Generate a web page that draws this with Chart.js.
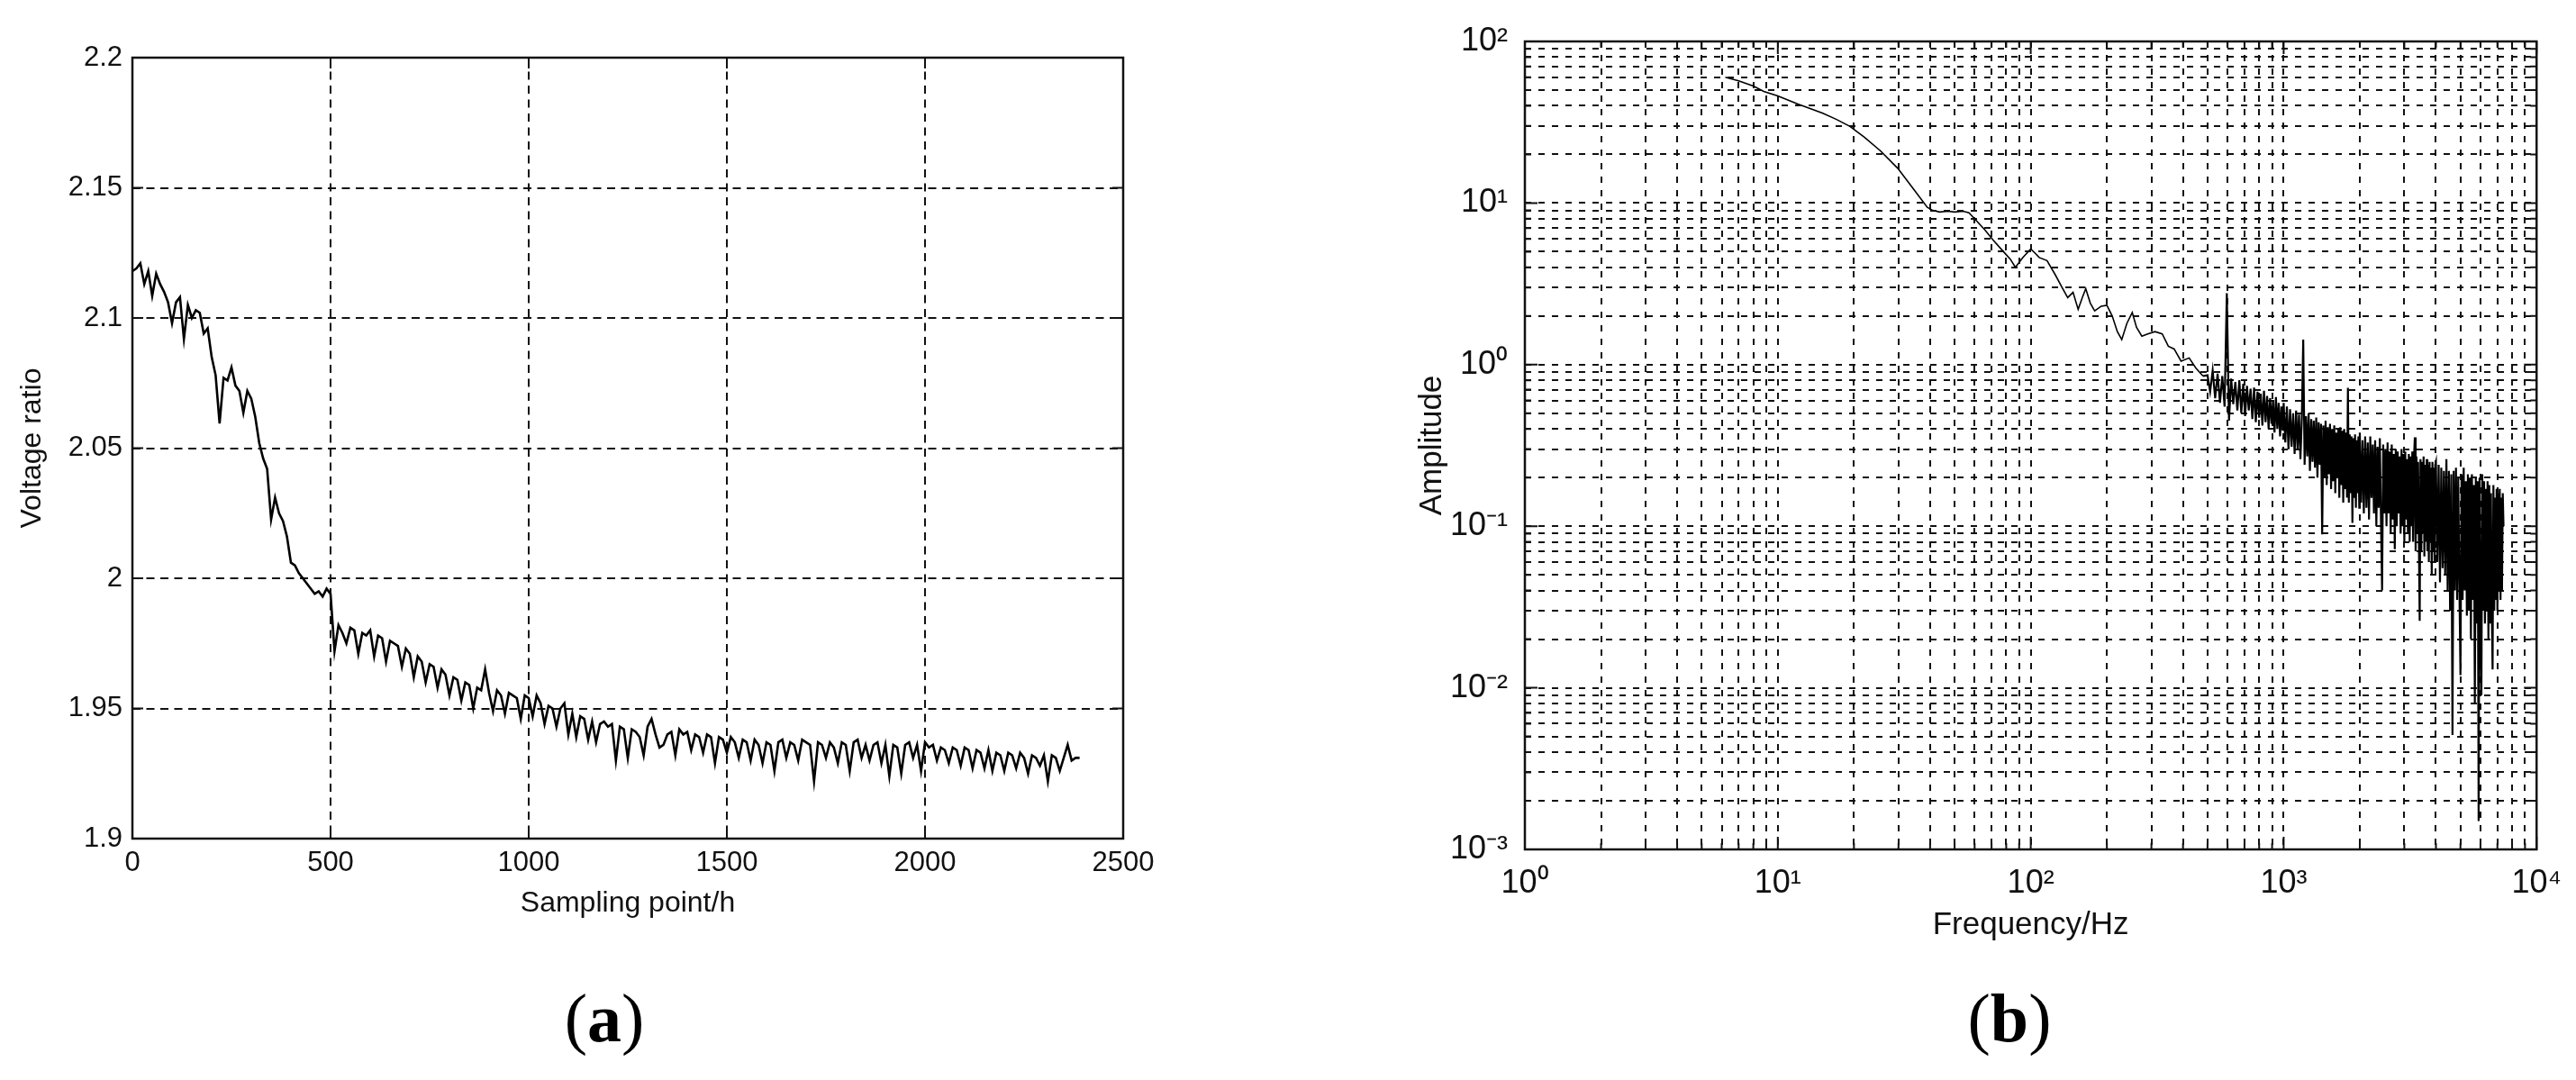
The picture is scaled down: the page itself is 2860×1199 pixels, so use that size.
<!DOCTYPE html>
<html lang="en">
<head>
    <meta charset="UTF-8">
    <title>Voltage ratio and amplitude spectrum</title>
    <script src="https://cdn.jsdelivr.net/npm/chart.js"></script>
    <style>
        body { margin: 0; width: 2860px; height: 1199px; background: #fff; overflow: hidden; position: relative; }
        canvas { position: absolute; top: 0; }
        #voltageChart { left: 0; }
        #spectrumChart { left: 1430px; }
        .tag { position: absolute; top: 1130px; transform: translate(-50%, -50%); font-family: 'Liberation Serif', 'Times New Roman', serif; font-size: 76px; color: #000; line-height: 1; white-space: nowrap; }
    </style>
</head>
<body>
    <canvas id="voltageChart" width="1330" height="1199"></canvas>
    <canvas id="spectrumChart" width="1430" height="1199"></canvas>
    <div class="tag" style="left: 671px;">(<b>a</b>)</div>
    <div class="tag" style="left: 2231px;">(<b>b</b>)</div>
    <script>
        // (a) voltage ratio, one reading every 10 sampling hours
        const hourStep = 10;
        const voltageRatio = [
            2.118, 2.119, 2.121, 2.113, 2.118, 2.1085, 2.117, 2.113, 2.110, 2.106,
            2.098, 2.106, 2.108, 2.092, 2.105, 2.100, 2.103, 2.102, 2.094, 2.096,
            2.085, 2.078, 2.0595, 2.077, 2.076, 2.081, 2.074, 2.072, 2.0636, 2.072,
            2.069, 2.062, 2.052, 2.046, 2.042, 2.0226, 2.031, 2.025, 2.022, 2.016,
            2.006, 2.005, 2.002, 2.000, 1.998, 1.996, 1.994, 1.995, 1.993, 1.996,
            1.994, 1.972, 1.982, 1.979, 1.975, 1.981, 1.980, 1.971, 1.979, 1.978,
            1.980, 1.970, 1.978, 1.977, 1.968, 1.976, 1.975, 1.974, 1.966, 1.973,
            1.971, 1.962, 1.970, 1.968, 1.960, 1.967, 1.966, 1.958, 1.965, 1.963,
            1.955, 1.962, 1.961, 1.953, 1.960, 1.959, 1.950, 1.958, 1.957, 1.965,
            1.956, 1.949, 1.957, 1.955, 1.948, 1.956, 1.955, 1.954, 1.946, 1.955,
            1.954, 1.947, 1.955, 1.952, 1.944, 1.951, 1.950, 1.943, 1.950, 1.952,
            1.940, 1.948, 1.939, 1.947, 1.946, 1.938, 1.945, 1.937, 1.944, 1.945,
            1.943, 1.944, 1.930, 1.943, 1.942, 1.931, 1.942, 1.941, 1.939, 1.932,
            1.943, 1.946, 1.940, 1.935, 1.936, 1.940, 1.941, 1.932, 1.942, 1.940,
            1.941, 1.934, 1.940, 1.939, 1.933, 1.940, 1.939, 1.929, 1.939, 1.938,
            1.933, 1.939, 1.937, 1.931, 1.938, 1.937, 1.930, 1.938, 1.936, 1.929,
            1.937, 1.936, 1.926, 1.937, 1.938, 1.931, 1.937, 1.936, 1.930, 1.938,
            1.937, 1.936, 1.922, 1.937, 1.936, 1.931, 1.937, 1.935, 1.929, 1.937,
            1.936, 1.926, 1.937, 1.938, 1.931, 1.936, 1.930, 1.936, 1.937, 1.929,
            1.936, 1.924, 1.936, 1.935, 1.925, 1.936, 1.937, 1.931, 1.936, 1.926,
            1.937, 1.935, 1.936, 1.930, 1.935, 1.934, 1.929, 1.935, 1.934, 1.928,
            1.935, 1.934, 1.927, 1.934, 1.933, 1.927, 1.934, 1.926, 1.933, 1.932,
            1.926, 1.933, 1.932, 1.927, 1.933, 1.931, 1.925, 1.932, 1.931, 1.928,
            1.932, 1.922, 1.932, 1.931, 1.926, 1.931, 1.936, 1.930, 1.931, 1.931
        ];
        const hourTicks = [0, 500, 1000, 1500, 2000, 2500];
        const voltageTicks = [1.9, 1.95, 2, 2.05, 2.1, 2.15, 2.2];

        // (b) amplitude spectrum
        const spectrumHz = [
            6.2, 7, 8, 8.8, 10, 12, 15, 17, 19.3, 22, 25.4, 29.8, 34, 39, 41, 43.6, 47, 50, 54, 57,
            60.4, 66, 71, 78, 83, 87, 93, 100, 104, 108, 116, 125, 133, 140, 147, 154, 160, 165, 172, 179,
            190, 200, 210, 220, 229, 240, 252, 262, 275, 290, 310, 331, 350, 369, 393, 423, 450, 480,
            500, 512, 524, 536, 548, 560, 572, 584, 596, 608, 620, 632, 644, 656, 668, 680, 692, 704,
            716, 728, 740, 752, 764, 776, 788, 800, 812, 824, 836, 848, 860, 872, 884, 896, 908, 920,
            932, 944, 956, 968, 980, 992,
            1000, 1015, 1030, 1045, 1060, 1075, 1090, 1105, 1120, 1135, 1150, 1165, 1180, 1195, 1210,
            1225, 1240, 1255, 1270, 1285, 1300, 1315, 1330, 1345, 1360, 1375, 1390, 1405, 1420, 1435,
            1450, 1465, 1480, 1495, 1510, 1525, 1540, 1555, 1570, 1585, 1600, 1615, 1630, 1645, 1660,
            1675, 1690, 1705, 1720, 1735, 1750, 1765, 1780, 1795, 1810, 1825, 1840, 1855, 1870, 1885,
            1900, 1915, 1930, 1945, 1960, 1975, 1990,
            2000, 2025, 2050, 2075, 2100, 2125, 2150, 2175, 2200, 2225, 2250, 2275, 2300, 2325, 2350,
            2375, 2400, 2425, 2450, 2475, 2500, 2525, 2550, 2575, 2600, 2625, 2650, 2675, 2700, 2725,
            2750, 2775, 2800, 2825, 2850, 2875, 2900, 2925, 2950, 2975, 3000, 3025, 3050, 3075, 3100,
            3125, 3150, 3175, 3200, 3225, 3250, 3275, 3300, 3325, 3350, 3375, 3400, 3425, 3450, 3475,
            3500, 3525, 3550, 3575, 3600, 3625, 3650, 3675, 3700, 3725, 3750, 3775, 3800, 3825, 3850,
            3875, 3900, 3925, 3950, 3975,
            4000, 4050, 4100, 4150, 4200, 4250, 4300, 4350, 4400, 4450, 4500, 4550, 4600, 4650, 4700,
            4750, 4800, 4850, 4900, 4950, 5000, 5050, 5100, 5150, 5200, 5250, 5300, 5350, 5400, 5450,
            5500, 5550, 5600, 5650, 5700, 5750, 5800, 5850, 5900, 5950, 6000, 6050, 6100, 6150, 6200,
            6250, 6300, 6350, 6400, 6450, 6500, 6550, 6600, 6650, 6700, 6750, 6800, 6850, 6900, 6950,
            7000, 7050, 7100, 7150, 7200, 7250, 7300, 7350, 7400
        ];
        const spectrumAmp = [
            60, 57, 53, 49, 46, 41, 36, 33, 29.8, 25.5, 21.1, 16.4, 12.5, 9.4, 9.0, 8.8, 8.9, 8.8, 8.9, 8.7,
            7.9, 6.8, 5.9, 5.0, 4.5, 4.0, 4.6, 5.2, 4.9, 4.6, 4.4, 3.6, 3.0, 2.6, 2.8, 2.2, 2.6, 2.95, 2.4, 2.15,
            2.3, 2.33, 2.0, 1.6, 1.43, 1.8, 2.1, 1.7, 1.5, 1.55, 1.6, 1.55, 1.3, 1.25, 1.05, 1.1, 0.95, 0.85,
            0.86, 0.68, 0.92, 0.62, 0.88, 0.58, 0.85, 0.55, 2.77, 0.45, 0.82, 0.57, 0.78, 0.52, 0.80, 0.50, 0.76, 0.48,
            0.74, 0.52, 0.71, 0.46, 0.72, 0.44, 0.68, 0.47, 0.66, 0.42, 0.69, 0.44, 0.64, 0.40, 0.62, 0.43, 0.60, 0.38,
            0.63, 0.40, 0.58, 0.36, 0.55, 0.39,
            0.58, 0.33, 0.55, 0.30, 0.53, 0.31, 0.50, 0.28, 0.52, 0.30, 0.49, 0.26, 0.47, 1.43, 0.24,
            0.48, 0.27, 0.50, 0.22, 0.46, 0.25, 0.45, 0.23, 0.47, 0.20, 0.44, 0.24, 0.43, 0.089, 0.42,
            0.20, 0.45, 0.18, 0.41, 0.21, 0.43, 0.17, 0.40, 0.19, 0.42, 0.16, 0.38, 0.20, 0.40, 0.15,
            0.41, 0.18, 0.39, 0.14, 0.40, 0.17, 0.38, 0.15, 0.72, 0.14, 0.37, 0.16, 0.36, 0.105, 0.35,
            0.15, 0.37, 0.13, 0.34, 0.16, 0.36, 0.13,
            0.38, 0.14, 0.34, 0.12, 0.36, 0.13, 0.33, 0.11, 0.36, 0.15, 0.32, 0.12, 0.34, 0.10, 0.31,
            0.13, 0.35, 0.11, 0.040, 0.32, 0.12, 0.30, 0.10, 0.33, 0.12, 0.29, 0.09, 0.32, 0.11, 0.28,
            0.072, 0.30, 0.10, 0.29, 0.12, 0.27, 0.09, 0.30, 0.10, 0.28, 0.08, 0.29, 0.11, 0.26, 0.09,
            0.28, 0.08, 0.27, 0.10, 0.29, 0.08, 0.26, 0.355, 0.07, 0.27, 0.09, 0.25, 0.08, 0.026, 0.26,
            0.07, 0.25, 0.09, 0.27, 0.065, 0.24, 0.08, 0.26, 0.07, 0.24, 0.06, 0.25, 0.08, 0.23, 0.05,
            0.25, 0.07, 0.23, 0.06, 0.24,
            0.25, 0.06, 0.24, 0.045, 0.23, 0.055, 0.22, 0.05, 0.26, 0.04, 0.22, 0.03, 0.21, 0.0051, 0.22,
            0.04, 0.23, 0.035, 0.20, 0.045, 0.012, 0.21, 0.035, 0.23, 0.04, 0.19, 0.028, 0.21, 0.03, 0.20,
            0.02, 0.21, 0.035, 0.18, 0.008, 0.20, 0.025, 0.19, 0.0015, 0.20, 0.03, 0.009, 0.21, 0.03, 0.19,
            0.025, 0.17, 0.03, 0.19, 0.02, 0.18, 0.025, 0.16, 0.03, 0.013, 0.18, 0.03, 0.15, 0.035, 0.17,
            0.03, 0.16, 0.04, 0.17, 0.035, 0.15, 0.04, 0.16, 0.10
        ];
        const freqDecades = [1, 10, 100, 1000, 10000];
        const freqLabels = ['10⁰', '10¹', '10²', '10³', '10⁴'];
        const ampDecades = [0.001, 0.01, 0.1, 1, 10, 100];
        const ampLabels = ['10⁻³', '10⁻²', '10⁻¹', '10⁰', '10¹', '10²'];
        const minorSteps = [2, 3, 4, 5, 6, 7, 8, 9];
        const noisyFromHz = 480;

        Chart.defaults.font.family = "'Liberation Sans', Arial, sans-serif";
        Chart.defaults.color = '#111';
        Chart.defaults.animation = false;
        Chart.defaults.plugins.legend.display = false;
        Chart.defaults.plugins.tooltip.enabled = false;

        // decade ticks plus 2..9 minor ticks between them
        const logTicks = (decades) => {
            const ticks = [];
            decades.forEach((d, i) => {
                ticks.push({ value: d, major: true });
                if (i < decades.length - 1) {
                    minorSteps.forEach(m => ticks.push({ value: m * d, major: false }));
                }
            });
            return ticks;
        };

        const decadeLabel = (decades, labels) => (value) => {
            const i = decades.findIndex(d => Math.abs(d - value) < d * 1e-6);
            return i < 0 ? '' : labels[i];
        };

        // box around the plot with tick marks pointing inwards
        const boxFrame = {
            id: 'boxFrame',
            afterDraw(chart, args, opts) {
                const { ctx, chartArea: a, scales: { x, y } } = chart;
                ctx.save();
                ctx.strokeStyle = '#111';
                ctx.lineWidth = 2;
                ctx.beginPath();
                x.ticks.forEach(t => {
                    const len = t.major === false ? opts.minor : opts.major;
                    const px = x.getPixelForValue(t.value);
                    ctx.moveTo(px, a.bottom); ctx.lineTo(px, a.bottom - len);
                    ctx.moveTo(px, a.top); ctx.lineTo(px, a.top + len);
                });
                y.ticks.forEach(t => {
                    const len = t.major === false ? opts.minor : opts.major;
                    const py = y.getPixelForValue(t.value);
                    ctx.moveTo(a.left, py); ctx.lineTo(a.left + len, py);
                    ctx.moveTo(a.right, py); ctx.lineTo(a.right - len, py);
                });
                ctx.stroke();
                ctx.lineWidth = 2.5;
                ctx.strokeRect(a.left, a.top, a.right - a.left, a.bottom - a.top);
                ctx.restore();
            }
        };

        new Chart(document.getElementById('voltageChart'), {
            type: 'line',
            data: {
                datasets: [{
                    data: voltageRatio.map((v, i) => ({ x: i * hourStep, y: v })),
                    borderColor: '#000',
                    borderWidth: 2.6,
                    pointRadius: 0,
                    tension: 0
                }]
            },
            options: {
                responsive: false,
                devicePixelRatio: 1,
                layout: { padding: { left: 17, top: 64, right: 83, bottom: 177 } },
                scales: {
                    x: {
                        type: 'linear',
                        min: 0,
                        max: 2500,
                        afterBuildTicks: s => { s.ticks = hourTicks.map(v => ({ value: v })); },
                        afterFit: s => { s.height = 91; },
                        ticks: { font: { size: 31 }, padding: 9, maxRotation: 0, autoSkip: false, callback: v => String(v) },
                        grid: { color: '#111', lineWidth: 2, drawTicks: false },
                        border: { display: false, dash: [9, 6.5] },
                        title: { display: true, text: 'Sampling point/h', font: { size: 32 }, padding: 0 }
                    },
                    y: {
                        type: 'linear',
                        min: 1.9,
                        max: 2.2,
                        afterBuildTicks: s => { s.ticks = voltageTicks.map(v => ({ value: v })); },
                        afterFit: s => { s.width = 130; },
                        ticks: { font: { size: 31 }, padding: 11, autoSkip: false, callback: v => String(v) },
                        grid: { color: '#111', lineWidth: 2, drawTicks: false },
                        border: { display: false, dash: [9, 6.5] },
                        title: { display: true, text: 'Voltage ratio', font: { size: 32 }, padding: 0 }
                    }
                },
                plugins: { boxFrame: { major: 12, minor: 0 } }
            },
            plugins: [boxFrame]
        });

        new Chart(document.getElementById('spectrumChart'), {
            type: 'line',
            data: {
                datasets: [{
                    data: spectrumHz.map((f, i) => ({ x: f, y: spectrumAmp[i] })),
                    borderColor: '#000',
                    borderWidth: 1.6,
                    pointRadius: 0,
                    tension: 0,
                    segment: { borderWidth: c => (c.p0.parsed.x >= noisyFromHz ? 2.2 : 1.6) }
                }]
            },
            options: {
                responsive: false,
                devicePixelRatio: 1,
                layout: { padding: { left: 139, top: 46, right: 36, bottom: 151 } },
                scales: {
                    x: {
                        type: 'logarithmic',
                        min: 1,
                        max: 10000,
                        afterBuildTicks: s => { s.ticks = logTicks(freqDecades); },
                        afterFit: s => { s.height = 105; },
                        ticks: { font: { size: 36 }, padding: 16, maxRotation: 0, autoSkip: false, callback: decadeLabel(freqDecades, freqLabels) },
                        grid: { color: '#111', lineWidth: 2, drawTicks: false },
                        border: { display: false, dash: [7, 8] },
                        title: { display: true, text: 'Frequency/Hz', font: { size: 35 }, padding: 0 }
                    },
                    y: {
                        type: 'logarithmic',
                        min: 0.001,
                        max: 100,
                        afterBuildTicks: s => { s.ticks = logTicks(ampDecades); },
                        afterFit: s => { s.width = 124; },
                        ticks: { font: { size: 36 }, padding: 19, autoSkip: false, callback: decadeLabel(ampDecades, ampLabels) },
                        grid: { color: '#111', lineWidth: 2, drawTicks: false },
                        border: { display: false, dash: [7, 8] },
                        title: { display: true, text: 'Amplitude', font: { size: 35 }, padding: 0 }
                    }
                },
                plugins: { boxFrame: { major: 14, minor: 7 } }
            },
            plugins: [boxFrame]
        });
    </script>
</body>
</html>
